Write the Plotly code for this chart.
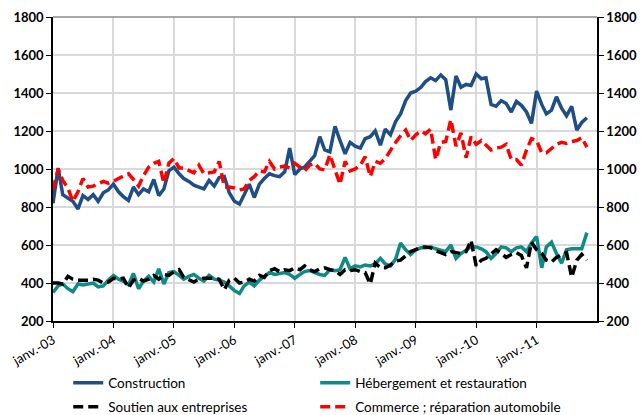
import pandas as pd
import plotly.graph_objects as go

# ---- data (monthly, Jan 2003 - Nov 2011) ----
start_month = "2003-01-01"
n_months = 107
tick_dates = ["2003-01-01", "2004-01-01", "2005-01-01", "2006-01-01", "2007-01-01",
              "2008-01-01", "2009-01-01", "2010-01-01", "2011-01-01"]
tick_labels = ["janv.-03", "janv.-04", "janv.-05", "janv.-06", "janv.-07",
               "janv.-08", "janv.-09", "janv.-10", "janv.-11"]

construction = [
    820, 1005, 865, 845, 830, 790, 860, 840, 865, 830, 875, 890,
    920, 880, 855, 835, 905, 865, 895, 880, 945, 860, 895, 990,
    1010, 975, 950, 935, 915, 905, 895, 940, 910, 955, 960, 875,
    830, 815, 870, 920, 850, 920, 950, 975, 965, 960, 985, 1110,
    970, 1000, 1010, 1040, 1070, 1170, 1100, 1090, 1225, 1150, 1080, 1140,
    1120, 1110, 1160, 1170, 1200, 1125, 1210, 1180, 1250, 1290, 1360, 1400,
    1410, 1430, 1460, 1480, 1465, 1495, 1470, 1310, 1490, 1430, 1445, 1440,
    1500, 1475, 1480, 1340, 1330, 1360, 1345, 1300, 1355, 1335, 1300, 1240,
    1410, 1340, 1290, 1310, 1380, 1320, 1280, 1330, 1205, 1245, 1270,
]
hebergement = [
    350, 385, 395, 370, 355, 395, 390, 395, 400, 380, 385, 415,
    440, 420, 410, 390, 450, 370, 410, 435, 405, 475, 395, 455,
    460, 440, 420, 435, 445, 425, 410, 440, 420, 415, 405, 385,
    360, 345, 385, 405, 385, 415, 435, 455, 445, 450, 455, 445,
    425, 445, 460, 465, 455, 445, 440, 470, 465, 470, 535, 475,
    490, 485, 495, 490, 500, 530, 500, 490, 525, 610, 575, 550,
    575, 585, 585, 590, 580, 570, 565, 600, 530, 555, 575, 590,
    590, 580, 565, 530, 555, 590, 585, 565, 585, 590, 565, 610,
    645, 480, 590, 615, 555, 505, 575, 580, 580, 580, 665,
]
soutien = [
    400, 400, 395, 435, 420, 415, 415, 415, 420, 415, 400, 405,
    425, 420, 425, 375, 415, 425, 410, 420, 440, 420, 445, 440,
    460, 470, 430, 415, 405, 420, 425, 425, 425, 420, 365, 415,
    425, 400, 405, 420, 410, 440, 430, 465, 475, 460, 470, 465,
    480, 470, 490, 470, 460, 475, 480, 470, 465, 445, 470, 465,
    470, 460, 455, 395, 505, 480, 480, 495, 515, 520, 545, 565,
    575, 590, 590, 585, 570, 560, 550, 565, 560, 555, 565, 625,
    490, 520, 530, 555, 575, 555, 535, 550, 560, 545, 480, 615,
    575, 555, 520, 510, 535, 550, 560, 430, 520, 550, 520,
]
commerce = [
    890, 1000, 940, 900, 830, 880, 950, 905, 910, 920, 935, 925,
    935, 950, 960, 975, 945, 910, 965, 1010, 1030, 1040, 925, 1030,
    1055, 1005, 1005, 990, 980, 1020, 975, 980, 985, 1040, 905, 905,
    900, 890, 895, 940, 960, 990, 985, 1040, 1000, 1010, 1015, 1005,
    1030, 1010, 990, 1020, 1030, 1000, 995, 1075, 1000, 920, 1040, 990,
    1000, 1020, 1065, 960, 1040, 1030, 1055, 1100, 1140, 1175, 1205, 1150,
    1180, 1200, 1185, 1210, 1050, 1140, 1145, 1260, 1120, 1190, 1060, 1170,
    1130, 1150, 1125, 1100, 1110, 1115, 1130, 1050, 1050, 1020, 1100, 1160,
    1150, 1085, 1085, 1110, 1130, 1140, 1135, 1145, 1150, 1165, 1115,
]

series_names = ["Construction", "Hébergement et restauration",
                "Soutien aux entreprises", "Commerce ; réparation automobile"]

months = pd.date_range(start_month, periods=n_months, freq="MS")

FONT = "Lato, 'Open Sans', sans-serif"

fig = go.Figure()
fig.add_trace(go.Scatter(x=months, y=construction, mode="lines", name=series_names[0],
                         line=dict(color="#1F4E84", width=3.5), legend="legend"))
fig.add_trace(go.Scatter(x=months, y=hebergement, mode="lines", name=series_names[1],
                         line=dict(color="#0E8A87", width=3.5), legend="legend2"))
fig.add_trace(go.Scatter(x=months, y=soutien, mode="lines", name=series_names[2],
                         line=dict(color="#000000", width=3.5, dash="10px,5px"), legend="legend3"))
fig.add_trace(go.Scatter(x=months, y=commerce, mode="lines", name=series_names[3],
                         line=dict(color="#FF0000", width=3.5, dash="10px,5px"),
                         legend="legend4", yaxis="y2"))

ytick_font = dict(family=FONT, size=13, color="black", weight="bold")
legend_common = dict(xanchor="left", yanchor="middle", bgcolor="rgba(0,0,0,0)",
                     font=dict(family=FONT, size=13.5, color="black"), itemwidth=30)

fig.update_layout(
    width=643, height=415,
    margin=dict(l=53, r=46, t=17, b=94, autoexpand=False),
    paper_bgcolor="white", plot_bgcolor="white",
    showlegend=True,
    xaxis=dict(
        type="date", range=["2003-01-01", "2012-01-01"],
        tickvals=tick_dates, ticktext=tick_labels, tickangle=-30,
        tickfont=dict(family=FONT, size=13, color="black"),
        showgrid=True, gridcolor="#D9D9D9", gridwidth=1.5,
        showline=True, linecolor="black", linewidth=1.5,
        ticks="outside", ticklen=5, tickcolor="black", zeroline=False,
    ),
    yaxis=dict(
        range=[200, 1800], dtick=200, tick0=200,
        tickfont=ytick_font,
        showgrid=True, gridcolor="#D9D9D9", gridwidth=1.5,
        showline=True, linecolor="black", linewidth=1.5,
        ticks="outside", ticklen=5, tickcolor="black", zeroline=False,
    ),
    yaxis2=dict(
        range=[200, 1800], dtick=200, tick0=200, overlaying="y", side="right",
        tickfont=ytick_font, showgrid=False,
        showline=True, linecolor="black", linewidth=1.5,
        ticks="outside", ticklen=5, tickcolor="black", zeroline=False,
    ),
    legend=dict(x=0.028, y=-0.204, **legend_common),
    legend2=dict(x=0.482, y=-0.204, **legend_common),
    legend3=dict(x=0.028, y=-0.283, **legend_common),
    legend4=dict(x=0.482, y=-0.283, **legend_common),
    shapes=[dict(type="line", xref="paper", yref="paper", x0=0, x1=1, y0=1, y1=1,
                 line=dict(color="#8C8C8C", width=1.5))],
)

fig.write_html("out.html", config={"displayModeBar": False},
               post_script="document.body.style.margin='0px';document.body.style.padding='0px';")
